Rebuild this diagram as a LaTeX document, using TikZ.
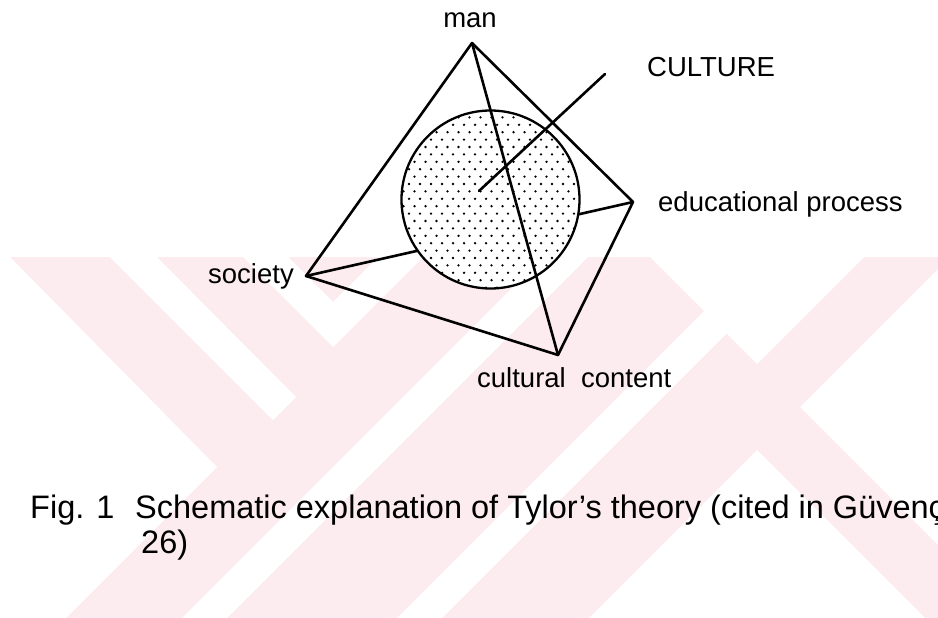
\documentclass[tikz,border=0pt]{standalone}
\usepackage{fontspec}
\setmainfont{Liberation Sans}
\definecolor{wmpink}{RGB}{252,235,239}
\begin{document}
\begin{tikzpicture}[x=1pt,y=-1pt,
  edge/.style={line width=2.6pt, line cap=round, line join=round},
  lbl/.style={inner sep=0pt, font=\fontsize{27.5}{32}\selectfont},
  captxt/.style={inner sep=0pt, font=\fontsize{32.5}{38}\selectfont},
  wm/.style={fill=white, draw=none}]
\useasboundingbox (0,0) rectangle (938,618);
% watermark
\begin{scope}
\clip (0,0) rectangle (938,618);
\fill[wmpink] (0,257) rectangle (938,618);
\fill[wm] (0,257) -- (10,257) -- (217,467) -- (66,618) -- (0,618) -- cycle;
\fill[wm] (110,257) -- (157,257) -- (296,397) -- (273,420) -- cycle;
\fill[wm] (243,257) -- (288,257) -- (333,302) -- (378,257) -- (423,257) -- (333,347) -- cycle;
\fill[wm] (543,257) -- (588,257) -- (227,618) -- (182,618) -- cycle;
\fill[wm] (758,257) -- (803,257) -- (442,618) -- (397,618) -- cycle;
\fill[wm] (650,257) -- (864,257) -- (757,364) -- cycle;
\fill[wm] (800,407) -- (950,257) -- (1100,257) -- (1100,618) -- (1011,618) -- cycle;
\fill[wm] (757,450) -- (925,618) -- (589,618) -- cycle;
\end{scope}
% vertices
\coordinate (man) at (472,43);
\coordinate (edu) at (633,202);
\coordinate (soc) at (306,276);
\coordinate (cc) at (558,355);
% hidden edge behind the sphere
\draw[edge] (soc) -- (edu);
% sphere
\node[circle, minimum size=178pt, inner sep=0pt, fill=white] (culture) at (490.5,199.5) {};
\begin{scope}
\clip (490.5,199.5) circle (89pt);
\foreach \r in {0,...,25} {
  \foreach \c in {0,...,18} {
    \fill ({398+\c*11+mod(\r,2)*5.5},{110+\r*7.4}) circle (1.3pt);
  }
}
\end{scope}
\draw[line width=2.3pt] (culture.center) circle (89pt);
% visible edges
\draw[edge] (man) -- (soc);
\draw[edge] (man) -- (edu);
\draw[edge] (man) -- (cc);
\draw[edge] (soc) -- (cc);
\draw[edge] (edu) -- (cc);
% pointer
\coordinate (ptrA) at (479,191);
\coordinate (ptrB) at (605,74);
\draw[edge] (ptrA) -- (ptrB);
% labels
\node[lbl, anchor=base] (manlbl) at (470,28) {man};
\node[lbl, anchor=base west] (culturelbl) at (647,77) {CULTURE};
\node[lbl, anchor=base west] (edulbl) at (658,211) {educational process};
\node[lbl, anchor=base west] (soclbl) at (208,283) {society};
\node[lbl, anchor=base west] (cclbl) at (477,387) {cultural\ \ content};
% caption
\node[captxt, anchor=base west] (fig) at (30,518) {Fig. 1};
\node[captxt, anchor=base west] (capA) at (135,518) {Schematic explanation of Tylor{\char"0027}s theory (cited in Güvenç};
\node[captxt, anchor=base west] (capC) at (141,553) {26)};
\end{tikzpicture}
\end{document}
